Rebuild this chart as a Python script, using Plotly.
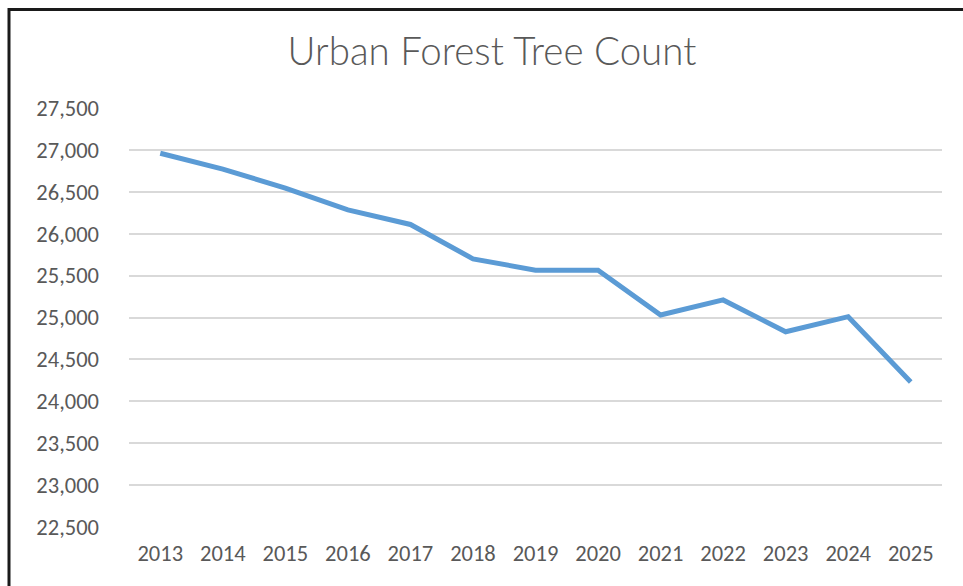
import plotly.graph_objects as go

years = ["2013", "2014", "2015", "2016", "2017", "2018", "2019",
         "2020", "2021", "2022", "2023", "2024", "2025"]
tree_count = [26960, 26770, 26545, 26285, 26110, 25700, 25565,
              25565, 25030, 25210, 24830, 25010, 24230]
y_ticks = [22500, 23000, 23500, 24000, 24500, 25000, 25500,
           26000, 26500, 27000, 27500]

W, H = 963, 586
L, R, T, B = 129, 21, 108, 59
pw, ph = W - L - R, H - T - B

fig = go.Figure()
fig.add_trace(go.Scatter(
    x=years, y=tree_count, mode="lines",
    line=dict(color="#5B9BD5", width=5, shape="linear"),
    hoverinfo="x+y", showlegend=False,
))

tick_font = dict(family="Carlito, Lato, sans-serif", size=22.5, color="#595959")

fig.update_layout(
    width=W, height=H,
    margin=dict(l=L, r=R, t=T, b=B, pad=0),
    paper_bgcolor="white", plot_bgcolor="white",
    title=dict(
        text="Urban Forest Tree Count",
        font=dict(family="Lato, sans-serif", size=38.5, color="#595959", weight=300),
        x=(492 - L) / pw, xref="paper", xanchor="center",
        y=1 - 52 / H, yref="container", yanchor="middle",
    ),
    xaxis=dict(
        type="category", range=[-0.5, 12.5],
        showgrid=False, zeroline=False, showline=False,
        ticks="", tickfont=tick_font, ticklabelstandoff=10,
        fixedrange=True,
    ),
    yaxis=dict(
        range=[22500, 27500], tickvals=y_ticks, tickformat=",d",
        showgrid=True, gridcolor="#D9D9D9", gridwidth=1.5,
        zeroline=False, showline=False, ticks="",
        tickfont=tick_font, ticklabelstandoff=29,
        fixedrange=True,
    ),
    shapes=[dict(
        type="rect", xref="paper", yref="paper",
        x0=(9 - L) / pw, x1=1.2, y0=-0.3, y1=1 + (T - 9.5) / ph,
        line=dict(color="#1a1a1a", width=3), fillcolor="rgba(0,0,0,0)",
        layer="above",
    )],
)

fig.write_html(
    "out.html",
    config={"displayModeBar": False},
    post_script="document.body.style.margin='0';document.body.style.overflow='hidden';",
)
